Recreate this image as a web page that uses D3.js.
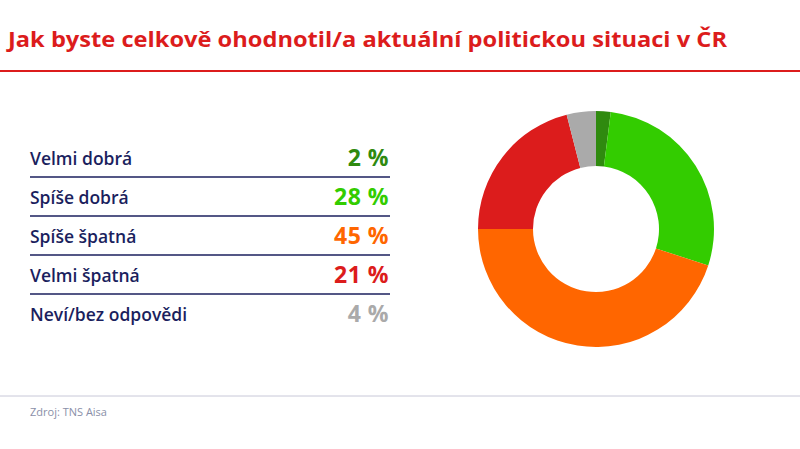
<!DOCTYPE html>
<html><head><meta charset="utf-8">
<script src="https://cdn.jsdelivr.net/npm/d3@7"></script>
<style>body{margin:0;background:#fff}svg{font-family:"Open Sans",sans-serif}</style>
</head><body>
<script>
var categories = ['Velmi dobrá', 'Spíše dobrá', 'Spíše špatná', 'Velmi špatná', 'Neví/bez odpovědi']
var values = [2, 28, 45, 21, 4]
var colors = ['#2f8a0f', '#33cc00', '#ff6600', '#dc1c1c', '#aaaaaa']

var svg = d3.select('body').append('svg').attr('width', 800).attr('height', 449)

svg.append('text').attr('x', 8).attr('y', 47).attr('fill', '#dc1c1c')
    .style('font-size', '21px').style('font-weight', 700)
    .attr('textLength', 719).attr('lengthAdjust', 'spacingAndGlyphs')
    .text('Jak byste celkově ohodnotil/a aktuální politickou situaci v ČR')
svg.append('line').attr('x1', 0).attr('x2', 800).attr('y1', 71).attr('y2', 71)
    .attr('stroke', '#dc1c1c').attr('stroke-width', 2)

var y = d3.scaleBand().domain(categories).range([138, 333])

var rows = svg.selectAll('g.row').data(categories).enter().append('g')
    .attr('transform', d => 'translate(0,' + y(d) + ')')
rows.append('text').attr('x', 30).attr('y', 27).attr('fill', '#1b1f5e')
    .style('font-size', '17.5px').style('font-weight', 600).text(d => d)
rows.append('text').attr('x', 389).attr('y', 28).attr('text-anchor', 'end')
    .attr('fill', (d, i) => colors[i])
    .style('font-size', '23px').style('font-weight', 700).style('letter-spacing', '0.5px')
    .text((d, i) => values[i] + ' %')
rows.filter((d, i) => i < categories.length - 1).append('line')
    .attr('x1', 30).attr('x2', 390).attr('y1', y.bandwidth()).attr('y2', y.bandwidth())
    .attr('stroke', '#1b1f5e').attr('stroke-width', 1.5)

var pie = d3.pie().sort(null)
var arc = d3.arc().innerRadius(63).outerRadius(118)
svg.append('g').attr('transform', 'translate(596,229)')
    .selectAll('path').data(pie(values)).enter().append('path')
    .attr('d', arc).attr('fill', (d, i) => colors[i])

svg.append('line').attr('x1', 0).attr('x2', 800).attr('y1', 396).attr('y2', 396)
    .attr('stroke', '#c8c8d8').attr('stroke-width', 1)
svg.append('text').attr('x', 30).attr('y', 416).attr('fill', '#8a8fa8')
    .style('font-size', '11px').text('Zdroj: TNS Aisa')
</script>
</body></html>
